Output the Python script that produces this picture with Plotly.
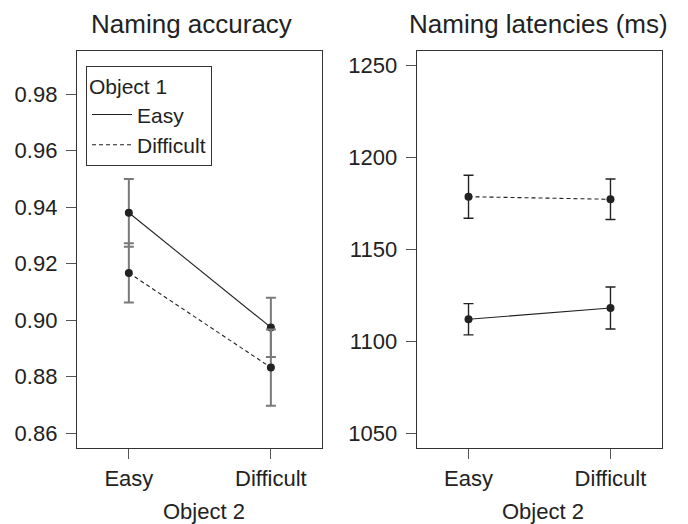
import plotly.graph_objects as go

# ---- data ----
x_labels = ["Easy", "Difficult"]
series_names = ["Easy", "Difficult"]

acc_obj1_easy = [0.938, 0.8974]
acc_obj1_easy_err = [0.012, 0.0105]
acc_obj1_diff = [0.9167, 0.8832]
acc_obj1_diff_err = [0.0105, 0.0135]

lat_obj1_easy = [1112.2, 1118.3]
lat_obj1_easy_err = [8.5, 11.4]
lat_obj1_diff = [1178.8, 1177.4]
lat_obj1_diff_err = [11.7, 11.0]

acc_ticks = [0.86, 0.88, 0.90, 0.92, 0.94, 0.96, 0.98]
lat_ticks = [1050, 1100, 1150, 1200, 1250]

# ---- figure ----
W, H = 688, 524
FONT = "Liberation Sans, Arial, Helvetica, sans-serif"
TXT = "#222222"
dashes = ["solid", "4px,3px"]

fig = go.Figure()

def add_panel(xa, ya, vals, errs, err_color, err_thick, legend):
    for i, (v, e) in enumerate(zip(vals, errs)):
        fig.add_trace(go.Scatter(
            x=x_labels, y=v, mode="lines", xaxis=xa, yaxis=ya,
            line=dict(color=TXT, width=1.1, dash=dashes[i]),
            name=series_names[i], showlegend=legend, legendgroup=series_names[i],
        ))
        fig.add_trace(go.Scatter(
            x=x_labels, y=v, mode="markers", xaxis=xa, yaxis=ya,
            marker=dict(color=TXT, size=8),
            error_y=dict(type="data", array=e, visible=True, color=err_color,
                         thickness=err_thick, width=5),
            showlegend=False, hoverinfo="skip",
        ))

add_panel("x", "y", [acc_obj1_easy, acc_obj1_diff],
          [acc_obj1_easy_err, acc_obj1_diff_err], "#7a7a7a", 2, True)
add_panel("x2", "y2", [lat_obj1_easy, lat_obj1_diff],
          [lat_obj1_easy_err, lat_obj1_diff_err], "#222222", 1.4, False)

def px_x(p):
    return p / W

def px_y(p):
    return 1 - p / H

axis_common = dict(showline=True, linecolor="#333333", linewidth=1.3, mirror=True,
                   ticks="outside", ticklen=10, tickcolor="#555555", tickwidth=1.3,
                   showgrid=False, zeroline=False,
                   tickfont=dict(family=FONT, size=22, color=TXT))

fig.update_layout(
    width=W, height=H, margin=dict(l=0, r=0, t=0, b=0),
    paper_bgcolor="white", plot_bgcolor="white",
    font=dict(family=FONT, color=TXT),
    xaxis=dict(domain=[px_x(77), px_x(322)], type="category", range=[-0.365, 1.36],
               anchor="y", **axis_common),
    yaxis=dict(domain=[px_y(448), px_y(51)], range=[0.8547, 0.9953],
               tickvals=acc_ticks, tickformat=".2f", anchor="x",
               ticklabelstandoff=4, **axis_common),
    xaxis2=dict(domain=[px_x(416.7), px_x(662.3)], type="category", range=[-0.365, 1.365],
                anchor="y2", **axis_common),
    yaxis2=dict(domain=[px_y(448), px_y(51)], range=[1042.2, 1258],
                tickvals=lat_ticks, anchor="x2", ticklabelstandoff=4, **axis_common),
    showlegend=True,
    legend=dict(x=px_x(86), y=px_y(66), xanchor="left", yanchor="top",
                bordercolor="#333333", borderwidth=1, bgcolor="white",
                font=dict(family=FONT, size=21, color=TXT),
                title=dict(text="Object 1", font=dict(family=FONT, size=21, color=TXT)),
                itemwidth=40, tracegroupgap=0),
)

annos = [
    ("Naming accuracy", 191.7, 24, 26),
    ("Naming latencies (ms)", 538.5, 24, 26),
    ("Object 2", 203.5, 511, 22),
    ("Object 2", 542.5, 511, 22),
]
for text, x, y, s in annos:
    fig.add_annotation(text=text, x=px_x(x), y=px_y(y), xref="paper", yref="paper",
                       xanchor="center", yanchor="middle", showarrow=False,
                       font=dict(family=FONT, size=s, color=TXT))

fig.write_html("out.html")
